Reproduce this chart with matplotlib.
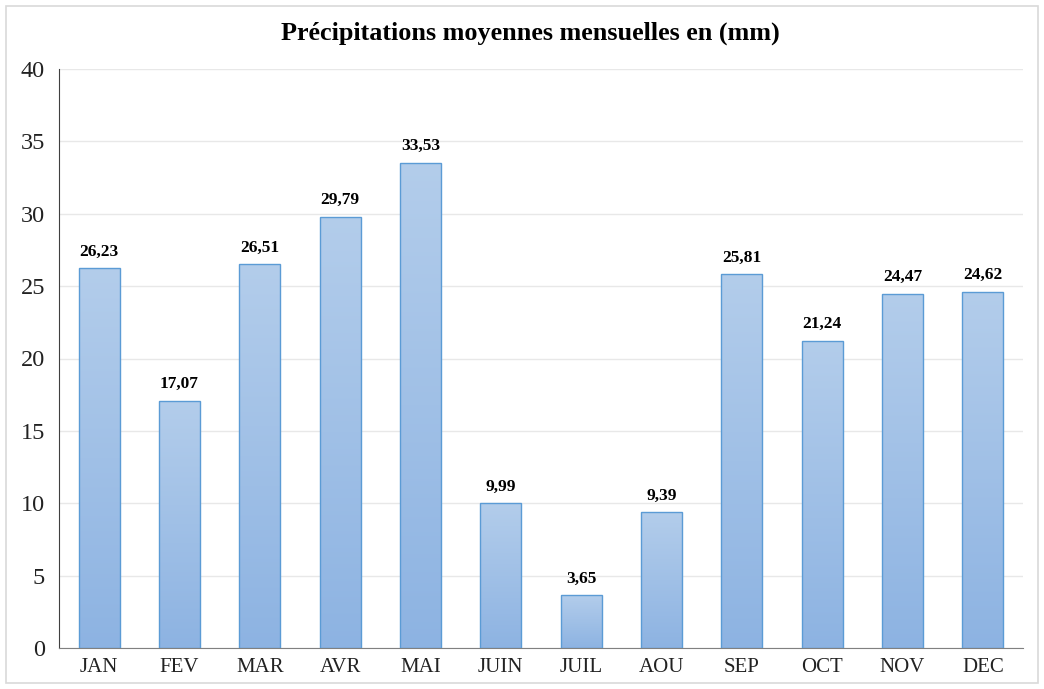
import matplotlib.pyplot as plt
import numpy as np
from matplotlib.patches import Rectangle
from matplotlib.colors import LinearSegmentedColormap

mois = ["JAN", "FEV", "MAR", "AVR", "MAI", "JUIN", "JUIL", "AOU", "SEP", "OCT", "NOV", "DEC"]
precip = [26.23, 17.07, 26.51, 29.79, 33.53, 9.99, 3.65, 9.39, 25.81, 21.24, 24.47, 24.62]
labels = ["26,23", "17,07", "26,51", "29,79", "33,53", "9,99", "3,65", "9,39", "25,81", "21,24", "24,47", "24,62"]

plt.rcParams['font.family'] = ['Liberation Serif', 'DejaVu Serif']

fig = plt.figure(figsize=(10.44, 6.89), dpi=100)
ax = fig.add_axes([59/1044, 1 - 648/689, 964/1044, (648 - 69)/689])

# cadre extérieur
fig.patches.append(Rectangle((6/1044, 6/689), 1032/1044, 677/689, transform=fig.transFigure,
                             fill=False, edgecolor='#D9D9D9', linewidth=1.2))

x = np.arange(len(mois))
bars = ax.bar(x, precip, width=0.51, color='none', edgecolor='#5B9BD5', linewidth=1.0, zorder=3)

# dégradé vertical dans chaque barre
grad = np.linspace(0, 1, 256).reshape(-1, 1)
cmap = LinearSegmentedColormap.from_list('bleu', ['#8DB3E2', '#B3CDEB'])
for b in bars:
    x0 = b.get_x()
    h = b.get_height()
    im = ax.imshow(grad, cmap=cmap, origin='lower', aspect='auto',
                   extent=(x0, x0 + b.get_width(), 0, h), zorder=2)
    im.set_clip_path(b)

for xi, v, t in zip(x, precip, labels):
    ax.text(xi, v + 0.6, t, ha='center', va='bottom', fontsize=12.5, fontweight='bold', color='black')

ax.set_xlim(-0.5, 11.5)
ax.set_ylim(0, 40)
ax.set_yticks(range(0, 41, 5))
ax.set_xticks(x)
ax.set_xticklabels(mois)
ax.tick_params(axis='y', length=0, labelsize=17.5, pad=10, colors='#222222')
ax.tick_params(axis='x', length=0, labelsize=15, pad=7, colors='#222222')
ax.grid(axis='y', color='#E8E8E8', linewidth=1.0, zorder=0)
ax.set_axisbelow(True)
for s in ['top', 'right']:
    ax.spines[s].set_visible(False)
ax.spines['left'].set_color('#404040')
ax.spines['bottom'].set_color('#808080')

fig.text(530/1044, 1 - 33/689, "Précipitations moyennes mensuelles en (mm)", ha='center', va='center',
         fontsize=18.8, fontweight='bold')

fig.savefig('out.png', dpi=100)
